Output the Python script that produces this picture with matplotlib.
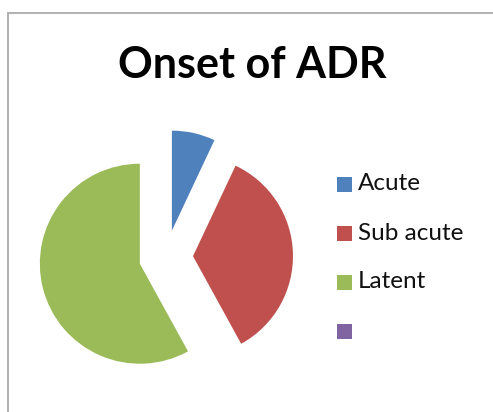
import matplotlib
matplotlib.use("Agg")
import matplotlib.pyplot as plt
from matplotlib.patches import Rectangle

# data
categories = ["Acute", "Sub acute", "Latent"]
values = [7, 35, 58]
legend_labels = ["Acute", "Sub acute", "Latent", ""]
colors = ["#4F81BD", "#C0504D", "#9BBB59", "#8064A2"]

W, H = 493, 412
fig = plt.figure(figsize=(W / 100, H / 100), dpi=100)
fig.patch.set_facecolor("white")

# grey frame (only top/left visible in the crop)
fig.patches.append(Rectangle((8 / W, -0.02), 1.2, (H - 13) / H + 0.02,
                             transform=fig.transFigure, fill=False,
                             edgecolor="#b0b0b0", linewidth=1.4))

# pie: centre at ~(166, 257) px, radius ~100 px
cx, cy, R = 166, 257, 100
span = 1.5 * R
ax = fig.add_axes([(cx - span) / W, (H - cy - span) / H,
                   2 * span / W, 2 * span / H])
ax.pie(values, colors=colors[:3], startangle=90, counterclock=False,
       explode=[0.27] * len(values), radius=1,
       wedgeprops=dict(linewidth=0))
ax.set_xlim(-1.5, 1.5)
ax.set_ylim(-1.5, 1.5)
ax.set_aspect("equal")
ax.axis("off")

fig.text(252 / W, 1 - 65 / H, "Onset of ADR", ha="center", va="center",
         fontsize=31, fontweight="bold", family="Lato")

# legend drawn by hand
y0, dy = 184, 49
for i, (lab, col) in enumerate(zip(legend_labels, colors)):
    y = y0 + i * dy
    fig.patches.append(Rectangle((337 / W, 1 - (y + 7.5) / H), 15 / W, 15 / H,
                                 transform=fig.transFigure,
                                 facecolor=col, edgecolor="none"))
    fig.text(358 / W, 1 - y / H, lab, ha="left", va="center",
             fontsize=17.5, family="Lato", color="#111111")

fig.savefig("out.png", dpi=100)
